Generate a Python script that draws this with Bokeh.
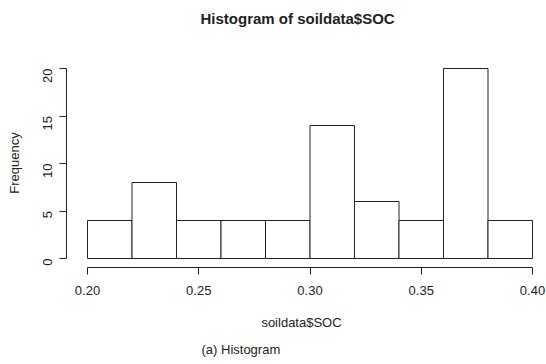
import math
from bokeh.plotting import figure
from bokeh.models import FixedTicker, Range1d, Title, NumeralTickFormatter
from bokeh.embed import file_html
from bokeh.resources import INLINE

# Data
bin_left = [0.20, 0.22, 0.24, 0.26, 0.28, 0.30, 0.32, 0.34, 0.36, 0.38]
bin_right = [0.22, 0.24, 0.26, 0.28, 0.30, 0.32, 0.34, 0.36, 0.38, 0.40]
counts = [4, 8, 4, 4, 4, 14, 6, 4, 20, 4]
x_ticks = [0.20, 0.25, 0.30, 0.35, 0.40]
y_ticks = [0, 5, 10, 15, 20]

INK = "#222222"
FONT = "Liberation Sans"

p = figure(width=546, height=364, output_backend="svg", toolbar_location=None,
           title=None,
           x_range=Range1d(0.20 - 21 / 2225, 0.40 + 4 / 2225),
           y_range=Range1d(-9 / 9.5, 20 + 10 / 9.5),
           min_border_left=66, min_border_right=10, min_border_top=58, min_border_bottom=97)

p.quad(left=bin_left, right=bin_right, top=counts, bottom=0,
       fill_color="white", line_color=INK, line_width=1)

p.grid.visible = False
p.outline_line_color = None
p.background_fill_color = "white"
p.border_fill_color = "white"

xa = p.xaxis[0]
xa.ticker = FixedTicker(ticks=x_ticks)
xa.formatter = NumeralTickFormatter(format="0.00")
xa.bounds = (x_ticks[0], x_ticks[-1])
xa.minor_tick_line_color = None
xa.major_tick_out = 7
xa.major_tick_in = 0
xa.major_label_standoff = 11
xa.axis_label = "soildata$SOC"
xa.axis_label_standoff = 17

ya = p.yaxis[0]
ya.ticker = FixedTicker(ticks=y_ticks)
ya.bounds = (y_ticks[0], y_ticks[-1])
ya.minor_tick_line_color = None
ya.major_tick_out = 7
ya.major_tick_in = 0
ya.major_label_standoff = 12
ya.major_label_orientation = math.pi / 2
ya.axis_label = "Frequency"
ya.axis_label_standoff = 14

for ax in (xa, ya):
    ax.axis_line_color = INK
    ax.major_tick_line_color = INK
    ax.major_label_text_color = INK
    ax.major_label_text_font = FONT
    ax.major_label_text_font_size = "13px"
    ax.axis_label_text_color = INK
    ax.axis_label_text_font = FONT
    ax.axis_label_text_font_size = "13px"
    ax.axis_label_text_font_style = "normal"

# spacer between the frame and the main title
spacer = Title(text=".", text_font_size="1px", text_color="white", standoff=24)
p.add_layout(spacer, "above")

main_title = Title(text="Histogram of soildata$SOC", align="left", offset=134, standoff=10,
                   text_font=FONT, text_font_size="15px", text_font_style="bold",
                   text_color=INK)
p.add_layout(main_title, "above")

cap = Title(text="(a) Histogram", align="left", offset=135, standoff=15,
            text_font=FONT, text_font_size="13px", text_font_style="normal",
            text_color=INK)
p.add_layout(cap, "below")

open("out.html", "w").write(file_html(p, INLINE))
